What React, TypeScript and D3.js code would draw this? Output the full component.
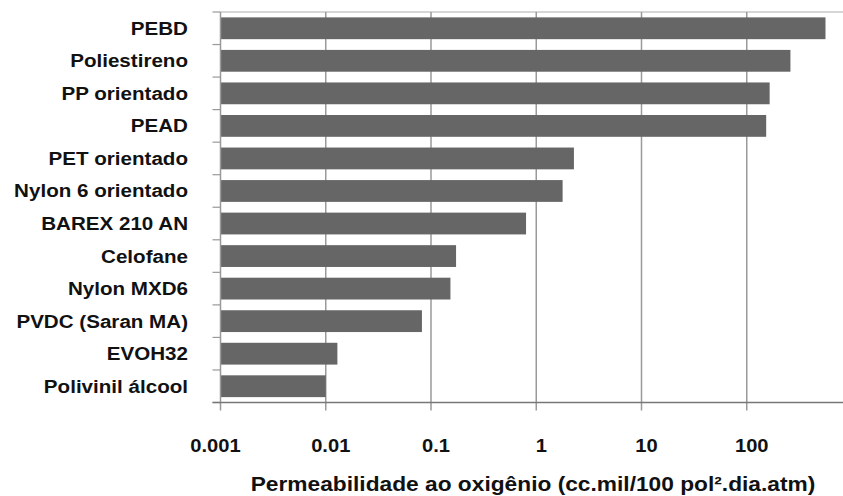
import React from "react";
import * as d3 from "d3";

const materials = [
  "PEBD",
  "Poliestireno",
  "PP orientado",
  "PEAD",
  "PET orientado",
  "Nylon 6 orientado",
  "BAREX 210 AN",
  "Celofane",
  "Nylon MXD6",
  "PVDC (Saran MA)",
  "EVOH32",
  "Polivinil álcool",
];

// Oxygen permeability, cc.mil/100 in².day.atm
const permeability = [560, 260, 165, 153, 2.28, 1.78, 0.8, 0.173, 0.153, 0.082, 0.0129, 0.01];

const tickValues = [0.001, 0.01, 0.1, 1, 10, 100];
const tickLabels = ["0.001", "0.01", "0.1", "1", "10", "100"];

const axisTitle = "Permeabilidade ao oxigênio (cc.mil/100 pol².dia.atm)";

const W = 843;
const H = 496;
const plotLeft = 220.5;
const plotTop = 12;
const plotBottom = 402.5;
const stretch = 1.12;

function Label(props: {
  x: number;
  y: number;
  size: number;
  anchor: "start" | "middle" | "end";
  children: React.ReactNode;
}) {
  return (
    <text
      transform={`translate(${props.x},${props.y}) scale(${stretch},1)`}
      textAnchor={props.anchor}
      fontWeight="bold"
      fontSize={props.size}
      fill="#111"
    >
      {props.children}
    </text>
  );
}

export default function App() {
  const x = d3.scaleLog().domain([0.001, 1000]).range([plotLeft, 852]);
  const y = d3
    .scaleBand<string>()
    .domain(materials)
    .range([plotTop, plotBottom])
    .paddingInner(0.33)
    .paddingOuter(0.165);

  const font = "'Liberation Sans', Arial, sans-serif";

  return (
    <svg
      width={W}
      height={H}
      style={{ position: "absolute", left: 0, top: 0, background: "#fff" }}
      fontFamily={font}
    >
      {/* top frame line */}
      <line x1={plotLeft} x2={W} y1={plotTop} y2={plotTop} stroke="#c8c8c8" strokeWidth={1.5} />

      {/* vertical grid lines */}
      {tickValues.slice(1).map((t) => (
        <line
          key={"g" + t}
          x1={x(t)}
          x2={x(t)}
          y1={plotTop}
          y2={plotBottom + 8}
          stroke="#9a9a9a"
          strokeWidth={1.5}
        />
      ))}

      {/* bars */}
      {materials.map((m, i) => (
        <rect
          key={m}
          x={x(0.001)}
          y={y(m)}
          width={x(permeability[i]) - x(0.001)}
          height={y.bandwidth()}
          fill="#666666"
        />
      ))}

      {/* left axis and category ticks */}
      <line x1={plotLeft} x2={plotLeft} y1={plotTop} y2={plotBottom + 8} stroke="#999" strokeWidth={1.5} />
      {d3.range(materials.length + 1).map((k) => {
        const yy = plotTop + (k * (plotBottom - plotTop)) / materials.length;
        return (
          <line key={"t" + k} x1={plotLeft - 8} x2={plotLeft} y1={yy} y2={yy} stroke="#999" strokeWidth={1.2} />
        );
      })}

      {/* bottom axis */}
      <line x1={plotLeft - 8} x2={W} y1={plotBottom} y2={plotBottom} stroke="#777" strokeWidth={1.5} />

      {/* category labels */}
      {materials.map((m) => (
        <Label key={"l" + m} x={188} y={(y(m) ?? 0) + y.bandwidth() / 2 + 6.5} size={18.4} anchor="end">
          {m}
        </Label>
      ))}

      {/* tick labels */}
      {tickValues.map((t, i) => (
        <Label key={"x" + t} x={x(t) + (i === 0 ? -5 : 5)} y={452} size={18} anchor="middle">
          {tickLabels[i]}
        </Label>
      ))}

      {/* axis title */}
      <Label x={533} y={491} size={20.3} anchor="middle">
        {axisTitle}
      </Label>
    </svg>
  );
}
